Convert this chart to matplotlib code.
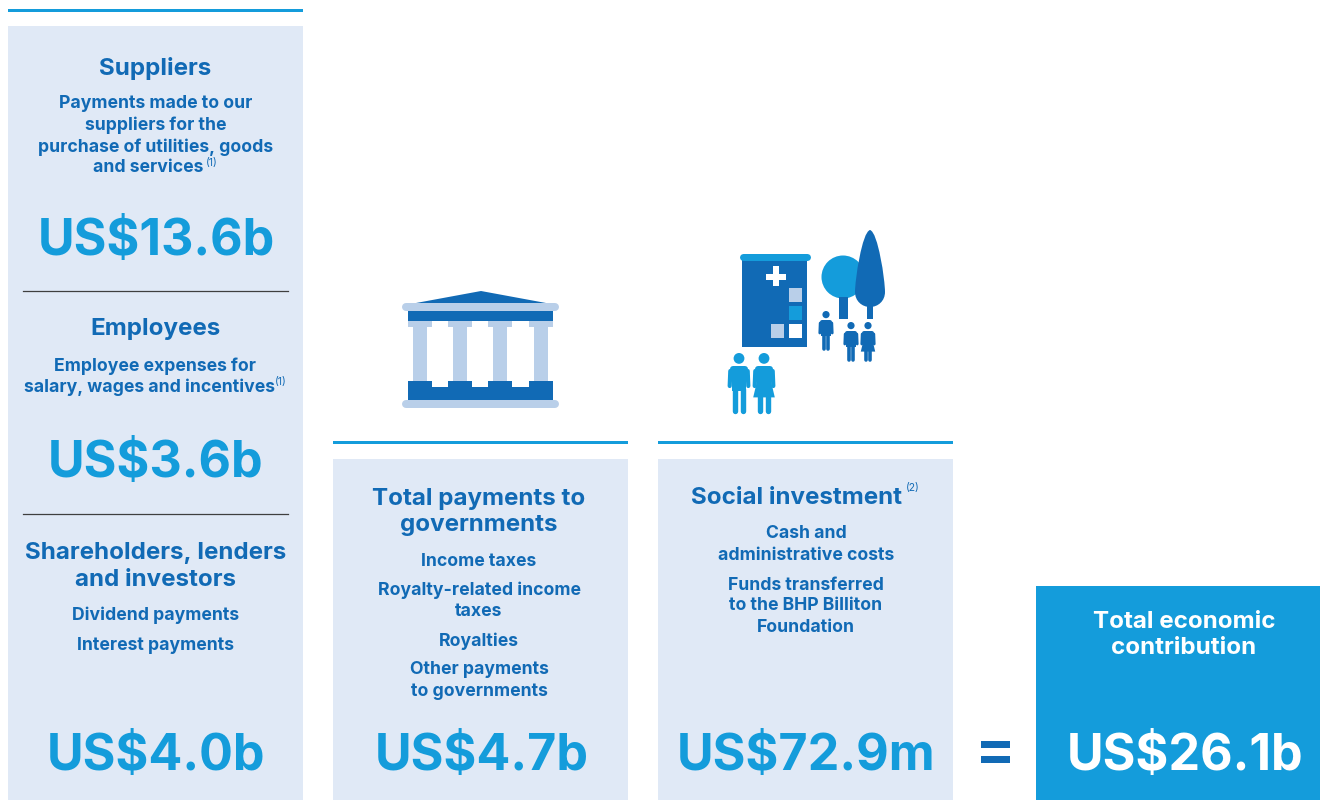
import matplotlib
matplotlib.use("Agg")
import matplotlib.pyplot as plt
from matplotlib.patches import Rectangle, Circle, Polygon, PathPatch
from matplotlib.path import Path

plt.rcParams['font.family'] = ['Inter', 'DejaVu Sans']

DARK = '#116ab5'
LIGHT = '#149cdb'
PALE = '#e0e9f6'
PALE2 = '#b9cfe9'

amounts = ['US$13.6b', 'US$3.6b', 'US$4.0b', 'US$4.7b', 'US$72.9m', 'US$26.1b']
headings = ['Suppliers', 'Employees', 'Shareholders, lenders', 'and investors',
            'Total payments to', 'governments', 'Social investment', 'Total economic', 'contribution']
supplier_lines = ['Payments made to our', 'suppliers for the', 'purchase of utilities, goods', 'and services']
employee_lines = ['Employee expenses for', 'salary, wages and incentives']
shareholder_lines = ['Dividend payments', 'Interest payments']
government_lines = ['Income taxes', 'Royalty-related income', 'taxes', 'Royalties', 'Other payments', 'to governments']
social_lines = ['Cash and', 'administrative costs', 'Funds transferred', 'to the BHP Billiton', 'Foundation']

fig = plt.figure(figsize=(13.2, 8), dpi=100)
ax = fig.add_axes([0, 0, 1, 1])
ax.set_xlim(0, 1320)
ax.set_ylim(800, 0)
ax.axis('off')


def rect(x, y, w, h, color, z=1):
    ax.add_patch(Rectangle((x, y), w, h, fc=color, ec='none', zorder=z))


def stroke(x0, y0, x1, y1, width, color, z=4):
    # width in pixels, round ends
    ax.plot([x0, x1], [y0, y1], color=color, lw=width * 0.72, solid_capstyle='round', zorder=z)


def pill(x, y, w, h, color, z=3):
    stroke(x + h / 2, y + h / 2, x + w - h / 2, y + h / 2, h, color, z)


def heading(x, y, s, color=DARK):
    ax.text(x, y + 2.5, s, color=color, fontsize=17.4, fontweight='bold', ha='center', va='center', zorder=5)


def body(x, y, s):
    ax.text(x, y + 1, s, color=DARK, fontsize=12.7, fontweight='bold', ha='center', va='center', zorder=5)


def amount(x, y, s, color=LIGHT):
    ax.text(x, y, s, color=color, fontsize=36.2, fontweight='bold', ha='center', va='baseline', zorder=5)


def note(x, y, s):
    ax.text(x, y, s, color=DARK, fontsize=7.5, ha='left', va='center', zorder=5)


def person(cx, top, s, color, dress=False):
    # little pictogram, s is the full height
    ax.add_patch(Circle((cx, top + 0.09 * s), 0.09 * s, fc=color, ec='none', zorder=4))
    arm = 0.07 * s
    stroke(cx - 0.145 * s, top + 0.3 * s, cx - 0.155 * s, top + 0.55 * s, arm, color)
    stroke(cx + 0.145 * s, top + 0.3 * s, cx + 0.155 * s, top + 0.55 * s, arm, color)
    stroke(cx - 0.1 * s, top + 0.27 * s, cx + 0.1 * s, top + 0.27 * s, 0.1 * s, color)
    rect(cx - 0.115 * s, top + 0.27 * s, 0.23 * s, 0.36 * s, color, 4)
    leg = 0.09 * s
    stroke(cx - 0.06 * s, top + 0.6 * s, cx - 0.06 * s, top + 0.96 * s, leg, color)
    stroke(cx + 0.06 * s, top + 0.6 * s, cx + 0.06 * s, top + 0.96 * s, leg, color)
    if dress:
        ax.add_patch(Polygon([(cx - 0.1 * s, top + 0.4 * s), (cx + 0.1 * s, top + 0.4 * s),
                              (cx + 0.18 * s, top + 0.74 * s), (cx - 0.18 * s, top + 0.74 * s)],
                             fc=color, ec='none', zorder=4))


# panels and rules
rect(8, 26, 295, 774, PALE)
rect(8, 8.5, 295, 3, LIGHT)
rect(333, 459, 295, 341, PALE)
rect(333, 441, 295, 3, LIGHT)
rect(658, 459, 295, 341, PALE)
rect(658, 441, 295, 3, LIGHT)
rect(1036, 586, 284, 214, LIGHT)
ax.plot([23, 288], [290.5, 290.5], color='#3f3f3f', lw=0.9, zorder=2)
ax.plot([23, 288], [513.5, 513.5], color='#3f3f3f', lw=0.9, zorder=2)

# first column
heading(155.5, 66, headings[0])
for y, s, x in zip([103, 124.5, 146, 167], supplier_lines, [155.5, 155.5, 155.5, 148.5]):
    body(x, y, s)
note(206, 163, '(1)')
amount(156, 255, amounts[0])
heading(155.5, 327, headings[1])
body(155.5, 365, employee_lines[0])
body(149, 386, employee_lines[1])
note(275, 382, '(1)')
amount(156, 477, amounts[1])
heading(155.5, 550, headings[2])
heading(155.5, 577, headings[3])
for y, s in zip([614, 644], shareholder_lines):
    body(155.5, y, s)
amount(156, 770, amounts[2])

# second column
heading(479, 496, headings[4])
heading(479, 522, headings[5])
for y, s in zip([560, 589, 611, 640, 669, 691], government_lines):
    body(479, y, s)
amount(482, 770, amounts[3])

# third column
heading(796.5, 495, headings[6])
note(906, 488, '(2)')
for y, s in zip([533, 554, 584, 605, 626], social_lines):
    body(806, y, s)
amount(806, 770, amounts[4])

# total
heading(1184, 620, headings[7], 'white')
heading(1184, 646, headings[8], 'white')
amount(1185, 770, amounts[5], 'white')
rect(981, 741, 29, 6.5, DARK)
rect(981, 756, 29, 6.5, DARK)

# government building
ax.add_patch(Polygon([(416, 303), (481, 291), (546, 303)], fc=DARK, ec='none', zorder=3))
pill(402, 303, 157, 8, PALE2)
rect(408, 311, 145, 10, DARK)
for cx in [420, 460, 500, 541]:
    rect(cx - 12, 321, 24, 6, PALE2, 2)
    rect(cx - 7, 327, 14, 55, PALE2, 2)
    rect(cx - 12, 381, 24, 6, DARK, 3)
rect(408, 387, 145, 13, DARK)
pill(402, 400, 157, 8, PALE2)

# hospital
rect(742, 258, 65, 89, DARK)
pill(739, 253, 71, 7, LIGHT)
rect(766, 274, 20, 6, 'white', 4)
rect(773, 266, 6, 20, 'white', 4)
rect(789, 288, 13, 14, PALE2, 4)
rect(789, 306, 13, 14, LIGHT, 4)
rect(771, 324, 13, 14, PALE2, 4)
rect(789, 324, 13, 14, 'white', 4)

# trees
ax.add_patch(Circle((843, 277), 21.5, fc=LIGHT, ec='none', zorder=2))
rect(839, 297, 9, 22, DARK, 2)
tree = Path([(870, 230), (862, 232), (855, 280), (855, 292), (855, 301), (862, 307), (870, 307),
             (878, 307), (885, 301), (885, 292), (885, 280), (878, 232), (870, 230)],
            [Path.MOVETO] + [Path.CURVE4] * 12)
ax.add_patch(PathPatch(tree, fc=DARK, ec='none', zorder=3))
rect(867, 305, 6, 14, DARK, 2)

# people
person(826, 311, 40, DARK)
person(851, 322, 40, DARK)
person(868, 322, 40, DARK, dress=True)
person(739, 353, 60, LIGHT)
person(764, 353, 60, LIGHT, dress=True)

fig.savefig('out.png', dpi=100)
